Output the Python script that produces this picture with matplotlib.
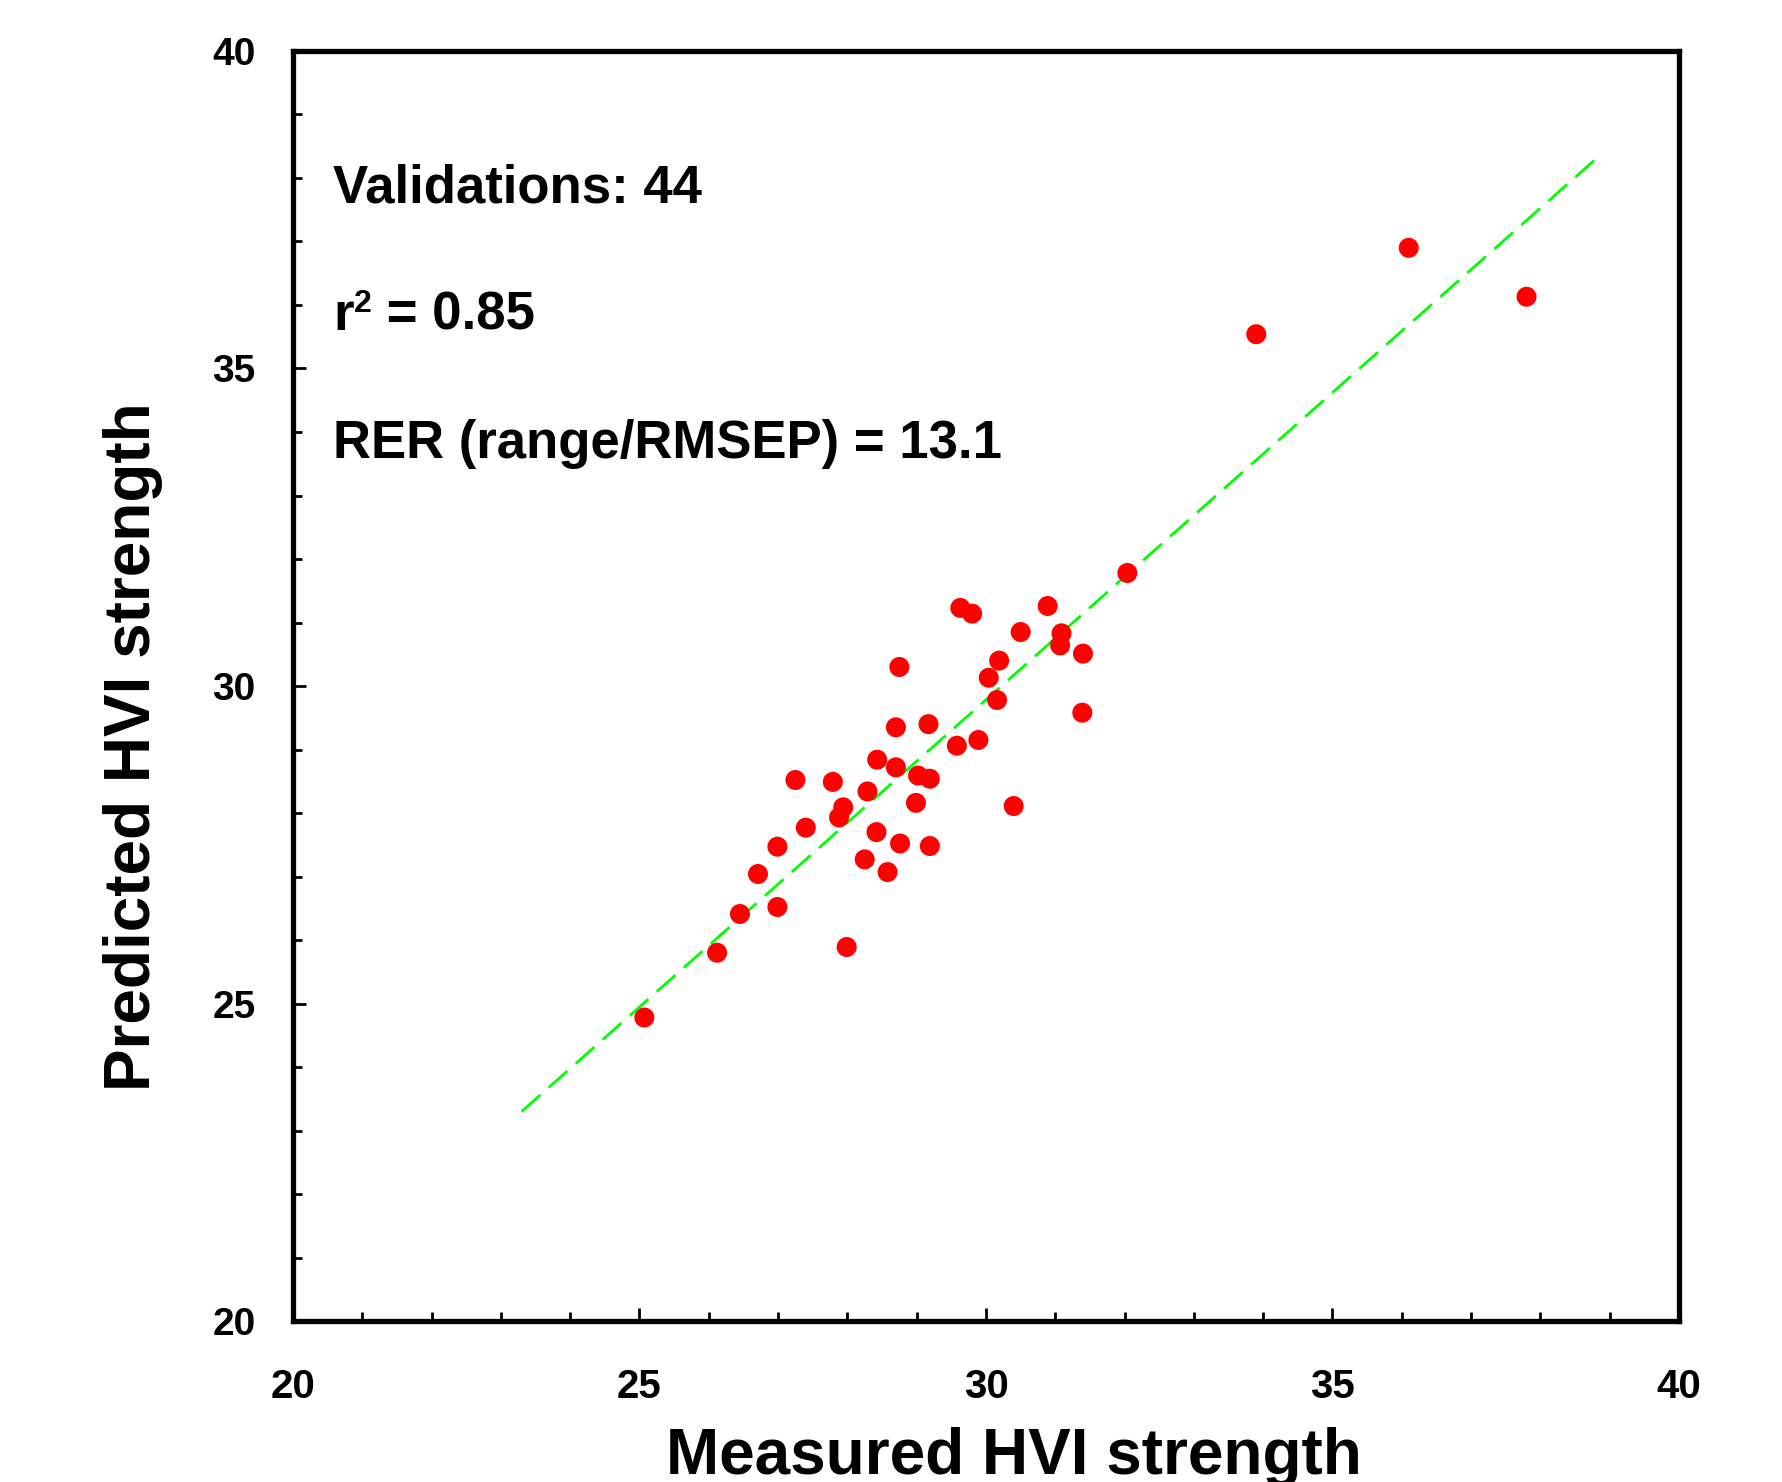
import matplotlib
matplotlib.use("Agg")
import matplotlib.pyplot as plt
from matplotlib.ticker import MultipleLocator

plt.rcParams['font.family'] = ['Liberation Sans', 'DejaVu Sans']
plt.rcParams['font.weight'] = 'bold'

# measured vs predicted HVI strength (validation set, 44 samples)
measured = [25.07, 26.12, 26.45, 26.99, 26.71, 26.99, 27.40, 27.25, 27.79, 27.94,
            27.88, 27.99, 28.25, 28.42, 28.58, 28.76, 29.19, 28.99, 28.29, 28.43,
            28.70, 29.02, 29.19, 28.70, 29.17, 28.75, 29.58, 29.89, 30.40, 30.04,
            30.16, 30.19, 29.63, 29.80, 30.50, 30.89, 31.09, 31.07, 31.40, 31.39,
            32.04, 33.90, 36.10, 37.80]
predicted = [24.78, 25.80, 26.41, 26.52, 27.04, 27.47, 27.77, 28.52, 28.49, 28.09,
             27.93, 25.89, 27.27, 27.70, 27.07, 27.52, 27.48, 28.16, 28.34, 28.84,
             28.72, 28.59, 28.54, 29.35, 29.40, 30.30, 29.06, 29.15, 28.11, 30.13,
             29.78, 30.40, 31.23, 31.14, 30.85, 31.26, 30.83, 30.64, 30.51, 29.58,
             31.78, 35.54, 36.90, 36.13]

# fitted line end points
fit_x = [23.3, 38.8]
fit_y = [23.3, 38.3]

n_valid = 44
r2 = "0.85"
rer = "13.1"
stats_y = [37.62, 35.61, 33.59]
text_x = 20.58

fig = plt.figure(figsize=(17.82, 14.82), dpi=100)
ax = fig.add_axes([0.1644, 0.1086, 0.7778, 0.857])

ax.plot(fit_x, fit_y, color='#00ff00', lw=2, dashes=(9, 4), zorder=2)
ax.scatter(measured, predicted, s=207, color='#ff0000', edgecolors='none', zorder=3)

ax.set_xlim(20, 40)
ax.set_ylim(20, 40)
ax.xaxis.set_major_locator(MultipleLocator(5))
ax.yaxis.set_major_locator(MultipleLocator(5))
ax.xaxis.set_minor_locator(MultipleLocator(1))
ax.yaxis.set_minor_locator(MultipleLocator(1))
ax.tick_params(which='both', direction='in', top=False, right=False, width=2)
ax.tick_params(which='major', length=9.5)
ax.tick_params(which='minor', length=6.5)
ax.tick_params(axis='x', which='major', pad=34, labelsize=29)
ax.tick_params(axis='y', which='major', pad=27, labelsize=28)
for lab in ax.get_xticklabels() + ax.get_yticklabels():
    lab.set_fontweight('bold')

for sp in ax.spines.values():
    sp.set_linewidth(3.8)

ax.text(text_x, stats_y[0], "Validations: %d" % n_valid, fontsize=38,
        fontweight='bold', va='baseline', ha='left')
ax.text(text_x, stats_y[2], "RER (range/RMSEP) = " + rer, fontsize=38,
        fontweight='bold', va='baseline', ha='left')

# r^2 line built from pieces so the superscript stays small
r_txt = ax.text(text_x, stats_y[1], "r", fontsize=38, fontweight='bold',
                va='baseline', ha='left')
fig.canvas.draw()
sup = ax.annotate("2", xy=(1, stats_y[1]), xycoords=(r_txt, 'data'),
                  xytext=(0.5, 13), textcoords='offset points',
                  fontsize=23, fontweight='bold', va='baseline', ha='left')
fig.canvas.draw()
ax.annotate(" = " + r2, xy=(1, stats_y[1]), xycoords=(sup, 'data'),
            fontsize=38, fontweight='bold', va='baseline', ha='left')

ax.set_xlabel("Measured HVI strength", fontsize=46, fontweight='bold', va='top')
ax.xaxis.set_label_coords(0.520, -0.0835)
ax.set_ylabel("Predicted HVI strength", fontsize=46, fontweight='bold')
ax.yaxis.set_label_coords(-0.0938, 0.452)

fig.savefig("out.png", dpi=100)
